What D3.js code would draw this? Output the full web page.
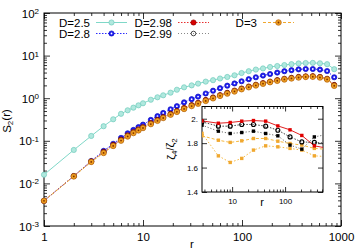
<!DOCTYPE html>
<html><head><meta charset="utf-8">
<script src="https://cdn.jsdelivr.net/npm/d3@7"></script>
<style>
body{margin:0;background:#fff}
svg{display:block}
text{font-family:"Liberation Sans",Arial,sans-serif;fill:#000}
</style></head>
<body><svg id="c" width="360" height="252"></svg>
<script>
// ---------- data ----------
const rValues = [1,2,3,4,5,6,7,8,9,10,12,14,16,19,22,26,31,36,43,51,60,71,84,99,117,138,163,192,227,268,316,373,440,519,613,724,854];
const sD25  = [0.016,0.061,0.13,0.22,0.32,0.43,0.52,0.6,0.68,0.76,0.92,1.05,1.17,1.35,1.58,1.8,2.0,2.2,2.45,2.65,2.9,3.15,3.45,3.9,4.3,4.7,5.0,5.4,5.7,6.0,6.3,6.55,6.7,6.75,6.6,6.3,4.8];
const sD28  = [0.0039,0.0149,0.0336,0.058,0.085,0.117,0.15,0.18,0.21,0.24,0.31,0.38,0.45,0.55,0.65,0.8,0.95,1.09,1.29,1.5,1.72,1.97,2.22,2.5,2.8,3.1,3.4,3.7,4.0,4.3,4.55,4.75,4.85,4.85,4.7,4.35,3.1];
const sD298 = [0.0039,0.0149,0.033,0.055,0.08,0.107,0.134,0.16,0.185,0.21,0.26,0.31,0.36,0.43,0.5,0.59,0.69,0.78,0.91,1.04,1.18,1.34,1.51,1.69,1.88,2.07,2.26,2.46,2.66,2.86,3.01,3.16,3.26,3.29,3.16,2.86,2.05];
const sD299 = [0.0039,0.0148,0.0328,0.054,0.079,0.105,0.132,0.158,0.182,0.207,0.256,0.305,0.355,0.425,0.495,0.58,0.68,0.77,0.9,1.03,1.17,1.33,1.49,1.67,1.86,2.05,2.24,2.43,2.63,2.83,2.98,3.13,3.23,3.26,3.13,2.83,2.03];
const sD3   = [0.0039,0.0146,0.032,0.052,0.076,0.101,0.127,0.152,0.176,0.2,0.247,0.295,0.343,0.41,0.478,0.56,0.655,0.745,0.865,0.995,1.135,1.285,1.445,1.625,1.81,2.0,2.19,2.38,2.57,2.76,2.91,3.06,3.16,3.19,3.06,2.76,1.96];
const seriesNames = ["D=2.5","D=2.8","D=2.98","D=2.99","D=3"];
const xTickValues = [1,10,100,1000];
const yTickExponents = [-3,-2,-1,0,1,2];

const insetR = [2.7,5.5,9.2,15.2,25.3,43,73,124,207,357,600];
const insetRedA    = [1.982,1.963,1.969,1.98,1.985,1.98,1.941,1.909,1.863,1.778,1.76];
const insetBlackA  = [1.974,1.939,1.939,1.953,1.953,1.939,1.906,1.851,1.81,1.806,1.80];
const insetBlackB  = [1.947,1.898,1.879,1.887,1.898,1.879,1.86,1.784,1.751,1.851,1.87];
const insetOrangeA = [1.86,1.824,1.806,1.819,1.838,1.838,1.816,1.797,1.784,1.757,1.75];
const insetOrangeB = [1.88,1.696,1.642,1.675,1.743,1.778,1.77,1.757,1.743,1.696,1.69];
const insetYTicks = [1.4,1.6,1.8,2.0];
const insetXTicks = [10,100];

// ---------- layout ----------
const svg = d3.select("#c");
const M = {l:44, r:341, t:13, b:226};
const x = d3.scaleLog().domain([1,1000]).range([M.l,M.r]);
const y = d3.scaleLog().domain([1e-3,1e2]).range([M.b,M.t]);

function minorTicks(lo, hi){
  const out=[];
  for(let d=lo; d<hi; d*=10) for(let k=2;k<=9;k++) out.push(d*k);
  return out;
}
const sty = g => { g.select(".domain").remove(); g.selectAll("line").attr("stroke","#000").attr("stroke-width",0.8); };

svg.append("g").attr("transform",`translate(0,${M.b})`)
  .call(d3.axisBottom(x).tickValues(xTickValues).tickSize(-6).tickPadding(7).tickFormat(d3.format("d")))
  .call(sty).selectAll("text").attr("font-size",11.5);
svg.append("g").attr("transform",`translate(0,${M.b})`)
  .call(d3.axisBottom(x).tickValues(minorTicks(1,1000)).tickSize(-3).tickFormat("")).call(sty);
svg.append("g").attr("transform",`translate(0,${M.t})`)
  .call(d3.axisTop(x).tickValues(xTickValues).tickSize(-6).tickFormat("")).call(sty);
svg.append("g").attr("transform",`translate(0,${M.t})`)
  .call(d3.axisTop(x).tickValues(minorTicks(1,1000)).tickSize(-3).tickFormat("")).call(sty);

const yMajor = yTickExponents.map(e=>Math.pow(10,e));
const gy = svg.append("g").attr("transform",`translate(${M.l},0)`)
  .call(d3.axisLeft(y).tickValues(yMajor).tickSize(-6).tickPadding(6).tickFormat(""))
  .call(sty);
gy.selectAll(".tick").append("text").attr("x",-5).attr("dy","0.36em").attr("text-anchor","end").attr("font-size",11.5)
  .each(function(d){
    const t=d3.select(this); const e=Math.round(Math.log10(d));
    t.append("tspan").text("10");
    t.append("tspan").attr("dy","-0.45em").attr("font-size",8).text(e);
  });
svg.append("g").attr("transform",`translate(${M.l},0)`)
  .call(d3.axisLeft(y).tickValues(minorTicks(1e-3,1e2)).tickSize(-3).tickFormat("")).call(sty);
svg.append("g").attr("transform",`translate(${M.r},0)`)
  .call(d3.axisRight(y).tickValues(yMajor).tickSize(-6).tickFormat("")).call(sty);
svg.append("g").attr("transform",`translate(${M.r},0)`)
  .call(d3.axisRight(y).tickValues(minorTicks(1e-3,1e2)).tickSize(-3).tickFormat("")).call(sty);

svg.append("rect").attr("x",M.l).attr("y",M.t).attr("width",M.r-M.l).attr("height",M.b-M.t)
  .attr("fill","none").attr("stroke","#000").attr("stroke-width",1);

svg.append("text").attr("x",192).attr("y",248).attr("text-anchor","middle").attr("font-size",11.5).text("r");
const yl = svg.append("text").attr("transform","translate(11,121) rotate(-90)").attr("text-anchor","middle").attr("font-size",11.5);
yl.append("tspan").text("S");
yl.append("tspan").attr("dy","0.3em").attr("font-size",8).text("2");
yl.append("tspan").attr("dy","-0.3em").text("(r)");

// ---------- series ----------
const series = [
  {name:seriesNames[0], vals:sD25,  color:"#7fd8c8", dash:null,  fill:"#b0e8de", stroke:"#70ccbc", r:2.6},
  {name:seriesNames[1], vals:sD28,  color:"#2b2bff", dash:"1.5,1.5", fill:"#1c1cf0", stroke:"#1010c0", r:2.6, dot:"#fff"},
  {name:seriesNames[2], vals:sD298, color:"#e83030", dash:"1.5,1.5", fill:"#d80000", stroke:"#900000", r:2.6},
  {name:seriesNames[3], vals:sD299, color:"#888",    dash:"1,2",   fill:"none", stroke:"#000", r:2.3},
  {name:seriesNames[4], vals:sD3,   color:"#f0a830", dash:"3,2",   fill:"#f0a020", stroke:"#b06010", r:2.8, dot:"#803000"}
];
const line = d3.line().x((d,i)=>x(rValues[i])).y(d=>y(d));
const gS = svg.append("g");
series.forEach(s=>{
  gS.append("path").datum(s.vals).attr("d",line).attr("fill","none").attr("stroke",s.color)
    .attr("stroke-width",1).attr("stroke-dasharray",s.dash);
});
series.forEach(s=>{
  const g = gS.append("g");
  g.selectAll("circle").data(s.vals).join("circle")
    .attr("cx",(d,i)=>x(rValues[i])).attr("cy",d=>y(d)).attr("r",s.r)
    .attr("fill",s.fill).attr("stroke",s.stroke).attr("stroke-width",0.7);
  if(s.dot) g.selectAll("circle.d").data(s.vals).join("circle").attr("class","d")
    .attr("cx",(d,i)=>x(rValues[i])).attr("cy",d=>y(d)).attr("r",0.9).attr("fill",s.dot);
});

// ---------- legend ----------
const legPos = [[90,22.5],[90,33.5],[172,22.5],[172,33.5],[257,22.5]];
series.forEach((s,i)=>{
  const [lx,ly]=legPos[i];
  svg.append("text").attr("x",lx).attr("y",ly+4).attr("text-anchor","end").attr("font-size",11.5).text(s.name);
  svg.append("line").attr("x1",lx+6).attr("x2",lx+37).attr("y1",ly).attr("y2",ly)
    .attr("stroke",s.color).attr("stroke-width",1).attr("stroke-dasharray",s.dash);
  svg.append("circle").attr("cx",lx+21.5).attr("cy",ly).attr("r",s.r)
    .attr("fill",s.fill).attr("stroke",s.stroke).attr("stroke-width",0.7);
  if(s.dot) svg.append("circle").attr("cx",lx+21.5).attr("cy",ly).attr("r",0.9).attr("fill",s.dot);
});

// ---------- inset ----------
const I = {l:202, r:323, t:106.5, b:192};
svg.append("rect").attr("x",I.l).attr("y",I.t).attr("width",I.r-I.l).attr("height",I.b-I.t).attr("fill","#fff");
const xi = d3.scaleLog().domain([2.7,520]).range([I.l,I.r]);
const yi = d3.scaleLinear().domain([1.4,2.1]).range([I.b,I.t]);
svg.append("clipPath").attr("id","ic").append("rect").attr("x",I.l).attr("y",I.t).attr("width",I.r-I.l).attr("height",I.b-I.t);
const insetMinor = [3,4,5,6,7,8,9,20,30,40,50,60,70,80,90,200,300,400,500];
svg.append("g").attr("transform",`translate(0,${I.b})`)
  .call(d3.axisBottom(xi).tickValues(insetXTicks).tickSize(-5).tickPadding(6).tickFormat(d3.format("d"))).call(sty)
  .selectAll("text").attr("font-size",8);
svg.append("g").attr("transform",`translate(0,${I.b})`)
  .call(d3.axisBottom(xi).tickValues(insetMinor).tickSize(-2.5).tickFormat("")).call(sty);
svg.append("g").attr("transform",`translate(0,${I.t})`)
  .call(d3.axisTop(xi).tickValues(insetXTicks).tickSize(-5).tickFormat("")).call(sty);
svg.append("g").attr("transform",`translate(0,${I.t})`)
  .call(d3.axisTop(xi).tickValues(insetMinor).tickSize(-2.5).tickFormat("")).call(sty);
svg.append("g").attr("transform",`translate(${I.l},0)`)
  .call(d3.axisLeft(yi).tickValues(insetYTicks).tickSize(-5).tickPadding(4).tickFormat(d=>d===2?"2.":d3.format(".1f")(d))).call(sty)
  .selectAll("text").attr("font-size",8);
svg.append("g").attr("transform",`translate(${I.r},0)`)
  .call(d3.axisRight(yi).tickValues(insetYTicks).tickSize(-5).tickFormat("")).call(sty);
svg.append("rect").attr("x",I.l).attr("y",I.t).attr("width",I.r-I.l).attr("height",I.b-I.t)
  .attr("fill","none").attr("stroke","#000").attr("stroke-width",1);
svg.append("text").attr("x",262).attr("y",206).attr("text-anchor","middle").attr("font-size",11).text("r");
const il = svg.append("text").attr("transform","translate(175,149) rotate(-90)").attr("text-anchor","middle").attr("font-size",11);
il.append("tspan").text("ζ");
il.append("tspan").attr("dy","0.3em").attr("font-size",8).text("4");
il.append("tspan").attr("dy","-0.3em").text("/ζ");
il.append("tspan").attr("dy","0.3em").attr("font-size",8).text("2");

const inset = [
  {vals:insetOrangeB, color:"#f5b840", dash:"1.5,2", shape:"sq", fill:"#f0a830"},
  {vals:insetOrangeA, color:"#f5b840", dash:"3,2", shape:"sq", fill:"#f0a830"},
  {vals:insetBlackB,  color:"#555", dash:"1,2", shape:"sq", fill:"#000"},
  {vals:insetBlackA,  color:"#444", dash:"1.5,1.5", shape:"oc", fill:"#000"},
  {vals:insetRedA,    color:"#e02020", dash:null, shape:"sq", fill:"#e00000"}
];
const iline = d3.line().x((d,i)=>xi(insetR[i])).y(d=>yi(d));
const gi = svg.append("g").attr("clip-path","url(#ic)");
inset.forEach(s=>{
  gi.append("path").datum(s.vals).attr("d",iline).attr("fill","none").attr("stroke",s.color).attr("stroke-width",1).attr("stroke-dasharray",s.dash);
});
inset.forEach(s=>{
  const pts = s.vals.map((v,i)=>[xi(insetR[i]),yi(v)]);
  if(s.shape==="sq") gi.selectAll(null).data(pts).join("rect").attr("x",p=>p[0]-1.7).attr("y",p=>p[1]-1.7).attr("width",3.4).attr("height",3.4).attr("fill",s.fill);
  else gi.selectAll(null).data(pts).join("circle").attr("cx",p=>p[0]).attr("cy",p=>p[1]).attr("r",2).attr("fill","none").attr("stroke",s.fill).attr("stroke-width",1.1);
});
</script></body></html>
